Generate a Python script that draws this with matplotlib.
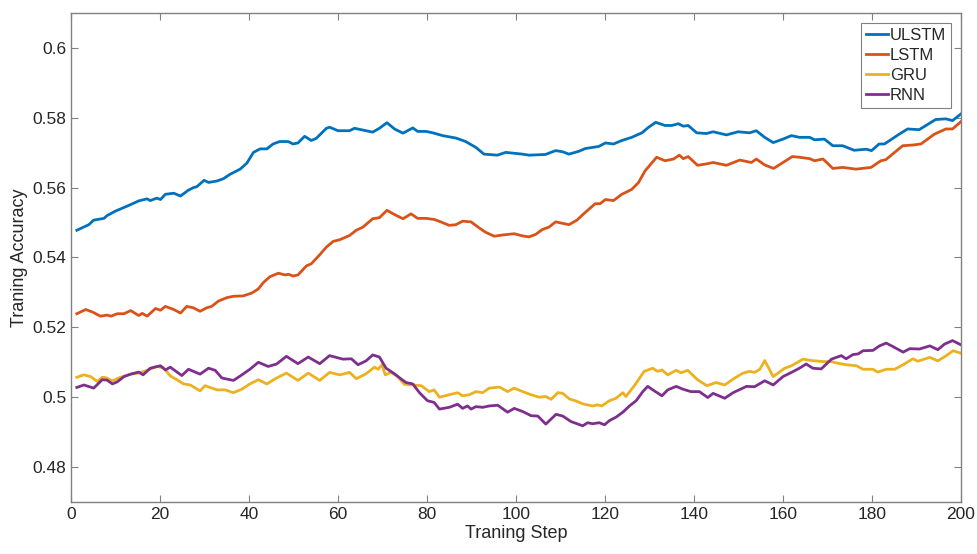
import matplotlib
matplotlib.use("Agg")
import matplotlib.pyplot as plt

plt.rcParams["font.family"] = ["Liberation Sans", "DejaVu Sans"]

# training accuracy curves, sampled along the training steps
ulstm_step = [1.3, 4, 5.1, 7.4, 8.1, 10, 12.6, 15.2, 17.1, 17.8, 19.3, 20.1, 21.2, 23.1, 24.6,
              26.4, 27.5, 28.3, 29.9, 30.9, 32.8, 34.3, 35.7, 38, 39.5, 41, 42.5, 44, 45.4,
              46.9, 48.8, 49.9, 51, 52.5, 54, 55.1, 57.4, 58.1, 60, 62.6, 63.7, 66.3, 67.8,
              69.3, 71, 72.7, 74.6, 76.8, 77.9, 79.8, 81.3, 83.5, 86.5, 88.7, 91, 92.8, 95.8,
              97.7, 101.4, 102.9, 106.6, 108.9, 110.4, 111.9, 114.1, 115.6, 118.6, 120.1,
              121.9, 123.8, 126, 128.3, 129.8, 131.4, 133.5, 135, 136.5, 137.6, 138.7, 140.6,
              142.8, 144.3, 147.3, 149.9, 152.5, 154, 155.9, 157.8, 160, 161.9, 163.7, 166,
              167.1, 169.3, 171.2, 173.4, 176, 178.7, 179.9, 181.6, 182.8, 186.1, 188, 190.6,
              194.3, 196.6, 198.1, 200]
ulstm_acc = [0.5478, 0.5494, 0.5507, 0.5512, 0.5520, 0.5533, 0.5547, 0.5562, 0.5568, 0.5563,
             0.5570, 0.5566, 0.5581, 0.5584, 0.5576, 0.5593, 0.5600, 0.5603, 0.5621, 0.5615,
             0.5619, 0.5626, 0.5638, 0.5653, 0.5670, 0.5701, 0.5711, 0.5711, 0.5725, 0.5732,
             0.5732, 0.5725, 0.5728, 0.5747, 0.5735, 0.5741, 0.5770, 0.5773, 0.5763, 0.5763,
             0.5770, 0.5763, 0.5759, 0.5770, 0.5786, 0.5768, 0.5756, 0.5771, 0.5761, 0.5761,
             0.5757, 0.5749, 0.5742, 0.5732, 0.5715, 0.5696, 0.5693, 0.5701, 0.5696, 0.5693,
             0.5695, 0.5706, 0.5703, 0.5696, 0.5704, 0.5712, 0.5718, 0.5728, 0.5725, 0.5735,
             0.5744, 0.5757, 0.5773, 0.5787, 0.5778, 0.5778, 0.5783, 0.5776, 0.5778, 0.5757,
             0.5755, 0.5760, 0.5751, 0.5760, 0.5757, 0.5763, 0.5744, 0.5729, 0.5739, 0.5749,
             0.5744, 0.5744, 0.5737, 0.5739, 0.5720, 0.5720, 0.5707, 0.5710, 0.5706, 0.5725,
             0.5725, 0.5753, 0.5768, 0.5766, 0.5795, 0.5797, 0.5792, 0.5811]

lstm_step = [1.3, 3.3, 4.8, 6.6, 8.1, 9, 10.4, 11.9, 13.4, 15.2, 16, 17.1, 19, 20.1, 21.2,
             23.1, 24.6, 26, 27.5, 29, 30.5, 31.6, 33.1, 35, 36.5, 38.7, 40.6, 42.1, 43.2,
             44.7, 46.6, 48.1, 48.8, 49.9, 51, 52.9, 54, 55.9, 57.4, 58.9, 60.4, 62.6, 64.1,
             65.6, 67.8, 69.3, 71, 72.7, 74.6, 76.4, 77.9, 79.8, 81.6, 83.1, 85, 86.5, 88,
             89.9, 91.7, 93.2, 95.1, 97.3, 99.6, 101.4, 102.9, 104.4, 105.9, 107.4, 108.9,
             111.9, 113.7, 115.2, 117.8, 118.9, 120.1, 121.9, 123.8, 126, 127.5, 129, 131.6,
             133.5, 135.4, 136.7, 137.6, 138.7, 140.8, 142.8, 144.3, 147.3, 150.3, 152.9, 154,
             155.9, 157.9, 160, 162.1, 163.7, 166, 167.1, 169, 171.2, 173.4, 176.4, 179.8, 182,
             183.1, 186.9, 189.1, 191, 194, 196.6, 198.1, 200]
lstm_acc = [0.5239, 0.5251, 0.5244, 0.5232, 0.5235, 0.5232, 0.5239, 0.5239, 0.5248, 0.5234,
            0.5240, 0.5232, 0.5254, 0.5249, 0.5260, 0.5251, 0.5241, 0.5260, 0.5256, 0.5246,
            0.5256, 0.5260, 0.5275, 0.5285, 0.5289, 0.5290, 0.5298, 0.5310, 0.5328, 0.5345,
            0.5355, 0.5350, 0.5352, 0.5347, 0.5350, 0.5376, 0.5382, 0.5408, 0.5430, 0.5446,
            0.5451, 0.5463, 0.5478, 0.5487, 0.5511, 0.5514, 0.5535, 0.5523, 0.5511, 0.5525,
            0.5512, 0.5512, 0.5509, 0.5502, 0.5492, 0.5494, 0.5504, 0.5502, 0.5485, 0.5472,
            0.5461, 0.5465, 0.5468, 0.5462, 0.5459, 0.5466, 0.5480, 0.5487, 0.5502, 0.5494,
            0.5507, 0.5525, 0.5554, 0.5554, 0.5566, 0.5563, 0.5581, 0.5595, 0.5614, 0.5648,
            0.5687, 0.5677, 0.5682, 0.5693, 0.5683, 0.5689, 0.5664, 0.5668, 0.5672, 0.5664,
            0.5679, 0.5672, 0.5682, 0.5665, 0.5655, 0.5672, 0.5689, 0.5687, 0.5683, 0.5677,
            0.5682, 0.5655, 0.5658, 0.5653, 0.5658, 0.5677, 0.5680, 0.5720, 0.5722, 0.5725,
            0.5753, 0.5768, 0.5768, 0.5789]

gru_step = [1.3, 2.9, 4.4, 5.9, 7, 7.8, 9.3, 11.1, 13.4, 15.2, 17.1, 19.3, 20.8, 22.3, 23.8,
            25.3, 26.8, 29, 30.1, 32.8, 34.6, 36.5, 38.4, 40.2, 42.1, 44, 46.2, 48.4, 51, 53.3,
            55.9, 58.1, 60.4, 62.6, 64.1, 66.3, 68.2, 69, 69.9, 70.6, 71.9, 73.4, 74.9, 76.8,
            78.7, 80.5, 81.6, 82.8, 85, 86.9, 88, 89.5, 91, 92.5, 94, 96.3, 98.1, 99.6, 101.5,
            103.4, 105.2, 106.7, 107.9, 109.4, 110.5, 112, 113.5, 115, 117.2, 118.4, 119.3,
            121, 122.5, 124, 124.7, 126.6, 128.8, 130.7, 131.8, 132.8, 134.1, 136, 137.1,
            138.6, 140.8, 142.9, 145, 146.9, 148.8, 151, 152.5, 153.6, 154.8, 155.9, 157.8,
            160.4, 161.9, 164.5, 166.4, 169, 170.9, 172, 174.2, 176.5, 178, 180.2, 181.3,
            183.2, 185.1, 187, 189.2, 190.3, 193, 194.8, 196.7, 198.2, 200]
gru_acc = [0.5057, 0.5064, 0.5059, 0.5045, 0.5057, 0.5056, 0.5047, 0.5057, 0.5066, 0.5069,
           0.5077, 0.5088, 0.5084, 0.5061, 0.5050, 0.5038, 0.5035, 0.5018, 0.5033, 0.5021,
           0.5021, 0.5013, 0.5023, 0.5038, 0.5050, 0.5038, 0.5055, 0.5069, 0.5048, 0.5069,
           0.5048, 0.5071, 0.5064, 0.5071, 0.5053, 0.5067, 0.5086, 0.5080, 0.5093, 0.5064,
           0.5071, 0.5059, 0.5037, 0.5035, 0.5033, 0.5016, 0.5021, 0.5000, 0.5007, 0.5013,
           0.5004, 0.5007, 0.5016, 0.5013, 0.5026, 0.5029, 0.5016, 0.5026, 0.5016, 0.5007,
           0.5000, 0.5002, 0.4994, 0.5013, 0.5011, 0.4995, 0.4989, 0.4981, 0.4975, 0.4978,
           0.4975, 0.4990, 0.4997, 0.5013, 0.5002, 0.5033, 0.5074, 0.5083, 0.5074, 0.5078,
           0.5064, 0.5077, 0.5070, 0.5077, 0.5050, 0.5033, 0.5042, 0.5035, 0.5052, 0.5069,
           0.5074, 0.5071, 0.5080, 0.5105, 0.5059, 0.5083, 0.5090, 0.5109, 0.5105, 0.5102,
           0.5102, 0.5098, 0.5093, 0.5090, 0.5080, 0.5080, 0.5072, 0.5080, 0.5080, 0.5093,
           0.5110, 0.5103, 0.5114, 0.5104, 0.5119, 0.5133, 0.5126]

rnn_step = [1.3, 2.9, 5.1, 7, 8.1, 9.3, 10.4, 11.9, 13.4, 15.2, 16.2, 17.8, 20.1, 21.2, 22.3,
            24.9, 26.4, 29, 30.9, 32.4, 33.9, 36.5, 38.4, 40.2, 42.1, 44.3, 46.2, 48.4, 51,
            53.3, 55.9, 58.1, 61.1, 63, 64.5, 66.3, 67.8, 69.3, 70.8, 72.7, 74.2, 75.3, 76.8,
            78.3, 80.1, 81.6, 82.8, 85, 86.9, 88, 89.1, 89.9, 91, 92.5, 94, 95.9, 98.1, 99.6,
            101.5, 103.4, 104.9, 106.7, 109, 110.5, 112.4, 113.5, 115, 116.1, 117.2, 118.7,
            119.9, 121, 122.5, 124, 125.5, 127, 128.5, 129.6, 131.1, 132.8, 134.1, 136, 137.5,
            139.3, 141.2, 143.1, 144.3, 146.9, 148.8, 151.8, 153.6, 155.9, 157.8, 160, 161.9,
            163.7, 165.2, 166.7, 168.6, 170.9, 173.1, 174.2, 175.7, 176.9, 178, 180.2, 181.7,
            183.2, 184.7, 187, 188.5, 190.7, 193, 194.8, 196.3, 198.1, 200]
rnn_acc = [0.5028, 0.5035, 0.5026, 0.5050, 0.5049, 0.5038, 0.5044, 0.5059, 0.5066, 0.5072,
           0.5064, 0.5083, 0.5090, 0.5078, 0.5086, 0.5062, 0.5080, 0.5066, 0.5083, 0.5077,
           0.5055, 0.5048, 0.5064, 0.5080, 0.5100, 0.5088, 0.5095, 0.5117, 0.5096, 0.5115,
           0.5096, 0.5119, 0.5109, 0.5110, 0.5093, 0.5104, 0.5121, 0.5115, 0.5083, 0.5067,
           0.5052, 0.5042, 0.5038, 0.5013, 0.4990, 0.4985, 0.4966, 0.4971, 0.4980, 0.4968,
           0.4975, 0.4966, 0.4973, 0.4971, 0.4975, 0.4977, 0.4957, 0.4968, 0.4959, 0.4947,
           0.4946, 0.4923, 0.4951, 0.4946, 0.4930, 0.4925, 0.4918, 0.4927, 0.4924, 0.4927,
           0.4921, 0.4933, 0.4943, 0.4957, 0.4975, 0.4990, 0.5016, 0.5031, 0.5018, 0.5004,
           0.5021, 0.5031, 0.5023, 0.5016, 0.5016, 0.4999, 0.5011, 0.4997, 0.5013, 0.5031,
           0.5030, 0.5047, 0.5035, 0.5059, 0.5071, 0.5083, 0.5095, 0.5083, 0.5081, 0.5109,
           0.5119, 0.5110, 0.5122, 0.5124, 0.5133, 0.5134, 0.5147, 0.5155, 0.5145, 0.5129,
           0.5139, 0.5138, 0.5147, 0.5136, 0.5152, 0.5162, 0.5150]

series = [
    ("ULSTM", ulstm_step, ulstm_acc, "#0072BD"),
    ("LSTM", lstm_step, lstm_acc, "#D95319"),
    ("GRU", gru_step, gru_acc, "#EDB120"),
    ("RNN", rnn_step, rnn_acc, "#7E2F8E"),
]

fig = plt.figure(figsize=(9.77, 5.54), dpi=100)
ax = fig.add_axes([0.0727, 0.0939, 0.9109, 0.8826])

for name, xs, ys, col in series:
    ax.plot(xs, ys, color=col, lw=2.0, label=name)

ax.set_xlim(0, 200)
ax.set_ylim(0.47, 0.61)
ax.set_xticks(range(0, 201, 20))
ax.set_yticks([0.48, 0.5, 0.52, 0.54, 0.56, 0.58, 0.6])
ax.set_yticklabels(["0.48", "0.5", "0.52", "0.54", "0.56", "0.58", "0.6"])

for side in ax.spines.values():
    side.set_color("#808080")
    side.set_linewidth(1.0)
ax.tick_params(direction="in", top=True, right=True, length=5, width=0.8,
               color="#808080", labelcolor="#262626", labelsize=12.5)

ax.set_xlabel("Traning Step", fontsize=13, color="#262626", labelpad=2)
ax.set_ylabel("Traning Accuracy", fontsize=13, color="#262626", labelpad=3)

leg = ax.legend(loc="upper right", fontsize=12, handlelength=1.3, handletextpad=0.1,
                labelspacing=0.3, borderpad=0.3, borderaxespad=0.6,
                fancybox=False, framealpha=1)
leg.get_frame().set_edgecolor("#808080")
leg.get_frame().set_linewidth(0.8)
for t in leg.get_texts():
    t.set_color("#262626")

fig.savefig("out.png", dpi=100)
